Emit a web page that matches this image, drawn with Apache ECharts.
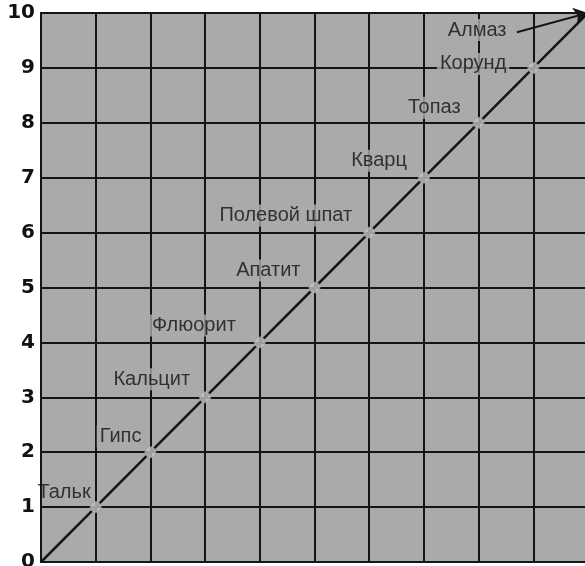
<!DOCTYPE html>
<html>
<head>
<meta charset="utf-8">
<script src="https://cdn.jsdelivr.net/npm/echarts@6/dist/echarts.min.js"></script>
<style>
  html, body { margin: 0; padding: 0; background: #ffffff; }
  #chart { width: 585px; height: 566px; }
</style>
</head>
<body>
<div id="chart"></div>
<script>
// Mohs scale of mineral hardness
const minerals = ['Тальк', 'Гипс', 'Кальцит', 'Флюорит', 'Апатит', 'Полевой шпат', 'Кварц', 'Топаз', 'Корунд', 'Алмаз'];
const ranks    = [1, 2, 3, 4, 5, 6, 7, 8, 9, 10];
const hardness = [1, 2, 3, 4, 5, 6, 7, 8, 9, 10];

// label placement relative to each point (layout only)
const labelOffsets = [[4, -15], [0, -16], [-6, -18], [-15, -17], [-5, -17], [-8, -17], [-8, -17], [-9, -15], [-18, -4], [-73, 17]];

const PLOT_BG = '#aaaaaa';
const INK = '#151515';

const points = minerals.map((name, i) => {
  const last = i === minerals.length - 1;
  const label = { offset: labelOffsets[i] };
  // the first label sits against the axis line, so it gets no backing box
  if (i === 0) label.backgroundColor = 'transparent';
  return {
    name: name,
    value: [ranks[i], hardness[i]],
    itemStyle: last ? { color: 'transparent', borderWidth: 0 } : undefined,
    label: label
  };
});

const lineData = [[0, 0]].concat(ranks.map((r, i) => [r, hardness[i]]));
const diamond = [ranks[ranks.length - 1], hardness[hardness.length - 1]];

const chart = echarts.init(document.getElementById('chart'), null, { renderer: 'canvas' });
chart.setOption({
  animation: false,
  backgroundColor: '#ffffff',
  grid: {
    left: 41, top: 13, width: 547, height: 549,
    outerBoundsMode: 'none',
    containLabel: false,
    show: true, backgroundColor: PLOT_BG, borderColor: INK, borderWidth: 2
  },
  xAxis: {
    type: 'value', min: 0, max: 10, interval: 1,
    axisLabel: { show: false },
    axisTick: { show: false },
    axisLine: { show: true, lineStyle: { color: INK, width: 2 } },
    splitLine: { show: true, lineStyle: { color: INK, width: 2 } }
  },
  yAxis: {
    type: 'value', min: 0, max: 10, interval: 1,
    axisTick: { show: false },
    axisLine: { show: true, lineStyle: { color: INK, width: 2 } },
    axisLabel: {
      margin: 6, color: '#111', fontSize: 20, fontWeight: 'bold',
      fontFamily: '"DejaVu Sans", sans-serif'
    },
    splitLine: { show: true, lineStyle: { color: INK, width: 2 } }
  },
  series: [
    {
      type: 'line',
      data: lineData,
      showSymbol: false,
      lineStyle: { color: INK, width: 2.5 },
      z: 2,
      silent: true
    },
    {
      type: 'scatter',
      data: points,
      symbol: 'circle',
      symbolSize: 11,
      itemStyle: { color: '#c2c2c2', borderColor: '#9a9a9a', borderWidth: 1 },
      label: {
        show: true,
        formatter: '{b}',
        position: 'left',
        distance: 0,
        color: '#111111',
        fontSize: 20,
        fontFamily: '"Liberation Sans", Arial, sans-serif',
        backgroundColor: PLOT_BG,
        padding: [1, 3]
      },
      z: 3,
      markLine: {
        silent: true,
        symbol: ['none', 'arrow'],
        symbolSize: 14,
        lineStyle: { color: INK, width: 2, type: 'solid' },
        label: { show: false },
        data: [[{ coord: [8.7, 9.65] }, { coord: diamond }]]
      }
    }
  ]
});
</script>
</body>
</html>
